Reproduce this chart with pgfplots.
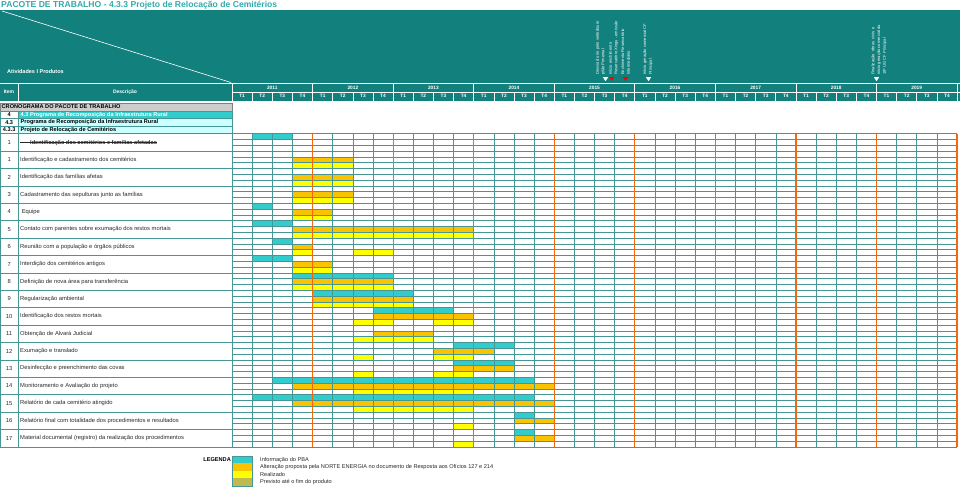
\documentclass[border=0pt]{standalone}
\usepackage{pgfplots}
\pgfplotsset{compat=1.18}
\usepackage{pgfplotstable}
\usepackage{fontspec}
\setmainfont{Liberation Sans}
\definecolor{teal1}{RGB}{18,128,124}
\definecolor{titlec}{RGB}{50,170,170}
\definecolor{gridc}{RGB}{70,150,150}
\definecolor{col0}{RGB}{51,204,204}
\definecolor{col1}{RGB}{250,195,0}
\definecolor{col2}{RGB}{255,255,0}
\definecolor{col3}{RGB}{190,185,80}
\definecolor{orgl}{RGB}{240,105,15}
\definecolor{lcyan}{RGB}{204,255,255}
\definecolor{grayc}{RGB}{205,205,205}
\definecolor{txt}{RGB}{40,40,40}
\newcommand\fs[1]{\fontsize{#1}{#1}\selectfont}

% b = activity block (0 = struck row), s = sub-row (0 PBA, 1 alteracao, 2 realizado), a = first quarter, e = end quarter (exclusive); quarter 0 = 2011 T1
\pgfplotstableread{
b s a e
0 0 1 3
1 1 3 6
1 2 3 6
2 1 3 6
2 2 3 6
3 1 3 6
3 2 3 6
4 0 1 2
4 1 3 5
4 2 3 5
5 0 1 3
5 1 3 12
5 2 3 12
6 0 2 3
6 1 3 4
6 2 3 4
6 2 6 8
7 0 1 3
7 1 3 5
7 2 3 5
8 0 3 8
8 1 3 8
8 2 3 8
9 0 4 9
9 1 4 9
9 2 4 9
10 0 7 11
10 1 7 12
10 2 6 8
10 2 10 12
11 1 7 10
11 2 6 10
12 0 11 14
12 1 10 13
12 2 6 7
12 2 10 12
13 0 11 14
13 1 11 14
13 2 6 7
13 2 10 12
14 0 2 15
14 1 3 16
14 2 6 12
15 0 1 15
15 1 3 16
15 2 6 12
16 0 14 15
16 1 14 16
16 2 11 12
17 0 14 15
17 1 14 16
17 2 11 12
}\bars

\begin{document}%
\begin{tikzpicture}[x=1pt,y=-1pt]
\pgfplotstablegetrowsof{\bars}%
\pgfmathtruncatemacro\nbars{\pgfplotsretval-1}%
\path[use as bounding box] (0,0) rectangle (960,488);

% title
\node[anchor=west, text=titlec, font=\fs{8.6}\bfseries, inner sep=0] at (1,5.2) {PACOTE DE TRABALHO - 4.3.3 Projeto de Relocação de Cemitérios};

% header block
\fill[teal1] (0,10) rectangle (960,100.5);
\draw[white, line width=0.7pt] (0,83.3) -- (960,83.3);
\draw[white, line width=0.6pt] (2,11) -- (231,82.5);
\node[anchor=west, text=white, font=\fs{5.5}\bfseries, inner sep=0] at (7,72) {Atividades I Produtos};
\draw[white, line width=0.6pt] (18.5,83.3) -- (18.5,100.5) (232,83.3) -- (232,100.5);
\draw[white, line width=0.6pt] (232,92) -- (960,92);
\node[text=white, font=\fs{5}\bfseries] at (9,92) {Item};
\node[text=white, font=\fs{5}\bfseries] at (125,92) {Descrição};
\foreach \i in {0,...,36}{
  \draw[white, line width=0.6pt] ({232+20.139*\i},92) -- ({232+20.139*\i},100.5);
}
\foreach \i in {0,4,...,36}{
  \draw[white, line width=0.6pt] ({232+20.139*\i},83.3) -- ({232+20.139*\i},92);
}
\foreach \y [count=\k from 0] in {2011,...,2019}{
  \node[text=white, font=\fs{4.8}\bfseries] at ({232+20.139*(4*\k+2)},87.8) {\y};
  \foreach \q in {1,...,4}{
    \node[text=white, font=\fs{4.8}\bfseries] at ({232+20.139*(4*\k+\q-0.5)},96.3) {T\q};
  }
}

% milestones
\begin{scope}[every node/.style={rotate=90, anchor=west, text=white, font=\fs{4.1}, inner sep=0}]
\node at (597.7,75) {Desvio do rio pelo vertedouro};
\node at (603.3,75) {pilão Pimental};
\node at (610.3,75) {Início enchimento};
\node at (616.3,75) {Reservatório Xingu - emissão};
\node at (622.6,75) {Enchimento Reservatório};
\node at (628.4,75) {Intermediário};
\node at (645,75) {Início geração comercial CF};
\node at (650.7,75) {Principal};
\node at (873.3,75) {Finalização\ \ obras\ \ civis\ \ e};
\node at (879,75) {início geração comercial da};
\node at (884.8,75) {18ª UG CF Principal};
\end{scope}
\foreach \mx/\mc in {605.5/white, 611.7/red, 625.5/red, 648.5/white, 876.5/white}{
  \fill[\mc] (\mx-2.6,77.2) -- (\mx+2.6,77.2) -- (\mx,81.2) -- cycle;
}

% upper table rows
\fill[grayc] (0,102.8) rectangle (232,110.8);
\fill[col0] (18.5,110.8) rectangle (232,118.3);
\fill[lcyan] (18.5,118.3) rectangle (232,125.8);
\fill[lcyan] (18.5,125.8) rectangle (232,133.6);
\draw[gray, line width=0.5pt] (0,102.8) rectangle (232,110.8);
\draw[gridc, line width=0.5pt] (0,110.8) -- (232,110.8) (0,118.3) -- (232,118.3) (0,125.8) -- (232,125.8) (0,133.6) -- (232,133.6)
  (0,110.8) -- (0,446.8) (18.5,110.8) -- (18.5,446.8) (232,110.8) -- (232,133.6);
\node[anchor=west, font=\fs{5.6}\bfseries, inner sep=0] at (1.5,106.9) {CRONOGRAMA DO PACOTE DE TRABALHO};
\node[font=\fs{5.6}\bfseries, inner sep=0] at (9.2,114.6) {4};
\node[anchor=west, font=\fs{5.6}\bfseries, text=white, inner sep=0] at (20.5,114.6) {4.3 Programa de Recomposição da Infraestrutura Rural};
\node[font=\fs{5.6}\bfseries, inner sep=0] at (9.2,122.1) {4.3};
\node[anchor=west, font=\fs{5.6}\bfseries, inner sep=0] at (20.5,122.1) {Programa de Recomposição da Infraestrutura Rural};
\node[font=\fs{5.6}\bfseries, inner sep=0] at (9.2,129.7) {4.3.3};
\node[anchor=west, font=\fs{5.6}\bfseries, inner sep=0] at (20.5,129.7) {Projeto de Relocação de Cemitérios};

% activity rows
\foreach \b in {0,...,18}{
  \draw[gridc, line width=0.5pt] (0,{133.6+17.4*\b}) -- (232,{133.6+17.4*\b});
}
\foreach \n/\t [count=\k from 0] in {1/{},1/Identificação e cadastramento dos cemitérios,2/Identificação das famílias afetas,3/Cadastramento das sepulturas junto as famílias,4/{\ Equipe},5/Contato com parentes sobre exumação dos restos mortais,6/Reunião com a população e órgãos públicos,7/Interdição dos cemitérios antigos,8/Definição de nova área para transferência,9/Regularização ambiental,10/Identificação dos restos mortais,11/Obtenção de Alvará Judicial,12/Exumação e translado,13/Desinfecção e preenchimento das covas,14/Monitoramento e Avaliação do projeto,15/Relatório de cada cemitério atingido,16/Relatório final com totalidade dos procedimentos e resultados,17/Material documental (registro) da realização dos procedimentos}{
  \node[font=\fs{5.8}, text=txt, inner sep=0] at (9.2,{142.3+17.4*\k}) {\n};
  \node[anchor=west, font=\fs{5.8}, text=txt, inner sep=0] at (20,{142.3+17.4*\k}) {\t};
}
\node[anchor=base west, font=\fs{5.6}\bfseries, text=txt, inner sep=0] (st) at (30,144.4) {Identificação dos cemitérios e famílias afetadas};
\draw[txt, line width=0.45pt] (20,142.6) -- (st.east |- 0,142.6);

% gantt
\begin{axis}[
  at={(232pt,-133.6pt)}, anchor=north west,
  width=725pt, height=313.2pt, scale only axis,
  xmin=0, xmax=36, ymin=0, ymax=54, y dir=reverse,
  xtick={0,1,2,3,5,6,7,9,10,11,13,14,15,17,18,19,21,22,23,25,26,27,29,30,31,33,34,35},
  ytick={0,...,54},
  xticklabels={}, yticklabels={},
  major tick length=0pt,
  grid=major, grid style={gridc, line width=0.5pt},
  extra x ticks={4,8,...,36}, extra x tick labels={},
  extra x tick style={grid style={orgl, line width=1.2pt}, major tick length=0pt},
  axis line style={draw=none},
  axis on top,
  clip=false,
]
\pgfplotsforeachungrouped \i in {0,...,\nbars}{%
  \pgfplotstablegetelem{\i}{b}\of\bars \let\gB\pgfplotsretval
  \pgfplotstablegetelem{\i}{s}\of\bars \let\gS\pgfplotsretval
  \pgfplotstablegetelem{\i}{a}\of\bars \let\gA\pgfplotsretval
  \pgfplotstablegetelem{\i}{e}\of\bars \let\gE\pgfplotsretval
  \pgfmathtruncatemacro\ylo{3*\gB+\gS}%
  \pgfmathtruncatemacro\yhi{3*\gB+\gS+1}%
  \edef\cmd{\noexpand\addplot[fill=col\gS, draw=none, mark=none] coordinates {(\gA,\ylo) (\gE,\ylo) (\gE,\yhi) (\gA,\yhi)} -- cycle;}%
  \cmd
}
\end{axis}

% legend
\node[anchor=east, font=\fs{5.6}\bfseries, inner sep=0] at (231,459.6) {LEGENDA};
\foreach \c/\t [count=\k from 0] in {col0/Informação do PBA, col1/Alteração proposta pela NORTE ENERGIA no documento de Resposta aos Ofícios 127 e 214, col2/Realizado / Andamento, col3/Previsto até o fim do produto}{
  \fill[\c] (232,{455.8+7.5*\k}) rectangle (251.8,{463.3+7.5*\k});
  \node[anchor=west, font=\fs{5.6}, text=txt, inner sep=0] at (260,{459.6+7.4*\k}) {\t};
}
\draw[gridc, line width=0.5pt] (232,455.8) rectangle (251.8,485.8);
\end{tikzpicture}%
\end{document}
